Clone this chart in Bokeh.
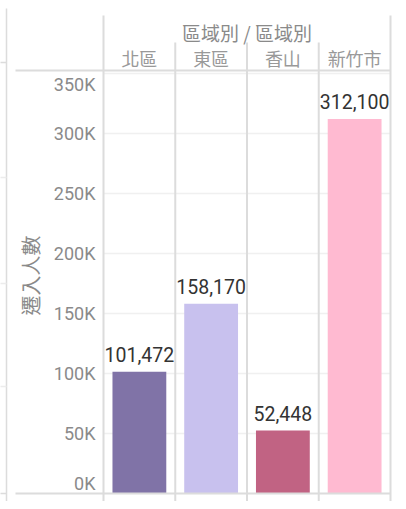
from bokeh.plotting import figure
from bokeh.models import ColumnDataSource, LinearAxis, FixedTicker, Range1d, Label
from bokeh.core.properties import value
from bokeh.embed import file_html
from bokeh.resources import INLINE

# ---- data ----
DISTRICTS = ["北區", "東區", "香山", "新竹市"]
MOVERS_IN = [101472, 158170, 52448, 312100]
BAR_COLORS = ["#8073A7", "#C8C1EE", "#C16383", "#FFBAD1"]
Y_TICKS = [0, 50000, 100000, 150000, 200000, 250000, 300000, 350000]
Y_TICK_LABELS = ["0K", "50K", "100K", "150K", "200K", "250K", "300K", "350K"]
X_TITLE = "區域別 / 區域別"
Y_TITLE = "遷入人數"

# ---- layout (pixels in the figure canvas) ----
W, H = 398, 501
COL_PX = 71.75          # width of one column
PANE_LEFT = 103         # left edge of first column
ZERO_PX = 493           # screen y of value 0
PX_PER_UNIT = 60 / 50000
LABEL_GAP_PX = 17
TICK_FONT = "Roboto"
TICK_SIZE = "18px"
TICK_COLOR = "#8a8a8a"
TICK_STANDOFF = 8


def sx_to_x(px):
    return (px - (PANE_LEFT + COL_PX / 2)) / COL_PX


def sy_to_y(py):
    return (ZERO_PX - py) / PX_PER_UNIT


p = figure(width=W, height=H, output_backend="svg", toolbar_location=None,
           x_range=Range1d(sx_to_x(0), sx_to_x(W)),
           y_range=Range1d(sy_to_y(H), sy_to_y(0)),
           x_axis_location=None, y_axis_location=None,
           min_border=0, min_border_left=0, min_border_right=0,
           min_border_top=0, min_border_bottom=0)
p.outline_line_color = None
p.background_fill_color = "white"
p.border_fill_color = "white"
p.grid.visible = False

n = len(DISTRICTS)
xs = list(range(n))
edges = [i - 0.5 for i in range(n + 1)]
LINE = "#dcdcdc"

# faint horizontal gridlines
p.segment(x0=[edges[0]] * (len(Y_TICKS) - 1), x1=[edges[-1]] * (len(Y_TICKS) - 1),
          y0=Y_TICKS[1:], y1=Y_TICKS[1:], line_color="#f0f0f0", line_width=1.5)

# left dashboard border and stubs
p.segment(x0=[sx_to_x(6)], x1=[sx_to_x(6)], y0=[sy_to_y(8)], y1=[sy_to_y(H + 5)],
          line_color=LINE, line_width=1.5)
p.segment(x0=[sx_to_x(-2)] * 2, x1=[sx_to_x(6)] * 2, y0=[sy_to_y(62), sy_to_y(493)],
          y1=[sy_to_y(62), sy_to_y(493)], line_color=LINE, line_width=1.5)
p.segment(x0=[sx_to_x(-2)] * 3, x1=[sx_to_x(6)] * 3,
          y0=[sy_to_y(177), sy_to_y(283), sy_to_y(386)],
          y1=[sy_to_y(177), sy_to_y(283), sy_to_y(386)], line_color="#ececec", line_width=1.5)

# bars
gap = LABEL_GAP_PX / PX_PER_UNIT
src = ColumnDataSource(dict(x=xs, v=MOVERS_IN, color=BAR_COLORS,
                            ly=[v + gap for v in MOVERS_IN],
                            label=[f"{v:,}" for v in MOVERS_IN]))
p.vbar(x="x", top="v", bottom=0, width=0.75, fill_color="color",
       line_color=None, source=src)
p.text(x="x", y="ly", text="label", source=src, text_align="center",
       text_baseline="alphabetic", text_font=value("Roboto"),
       text_font_size="19.5px", text_color="#333333")

# column separators
outer = [edges[0], edges[-1]]
inner = edges[1:-1]
p.segment(x0=outer, x1=outer, y0=[sy_to_y(15)] * 2, y1=[sy_to_y(H + 5)] * 2,
          line_color=LINE, line_width=2)
p.segment(x0=inner, x1=inner, y0=[sy_to_y(42)] * len(inner),
          y1=[sy_to_y(H + 5)] * len(inner), line_color=LINE, line_width=2)
# header border and zero line
p.segment(x0=[sx_to_x(15)] * 2, x1=[edges[-1]] * 2, y0=[sy_to_y(70), 0],
          y1=[sy_to_y(70), 0], line_color=LINE, line_width=2)


def style_axis(ax):
    ax.axis_line_color = None
    ax.major_tick_line_color = None
    ax.minor_tick_line_color = None
    ax.major_tick_out = 0
    ax.major_tick_in = 0
    ax.minor_tick_out = 0
    ax.minor_tick_in = 0


inner_ticks = Y_TICKS[1:-1]
yax = LinearAxis(fixed_location=edges[0], ticker=FixedTicker(ticks=inner_ticks, minor_ticks=[]),
                 major_label_overrides={t: Y_TICK_LABELS[Y_TICKS.index(t)] for t in inner_ticks})
style_axis(yax)
yax.major_label_standoff = TICK_STANDOFF
yax.major_label_text_font = TICK_FONT
yax.major_label_text_font_size = TICK_SIZE
yax.major_label_text_color = TICK_COLOR
yax.axis_label = Y_TITLE
yax.axis_label_text_font = "Noto Sans CJK TC"
yax.axis_label_text_font_size = "20px"
yax.axis_label_text_font_style = "normal"
yax.axis_label_text_color = "#8a8a8a"
yax.axis_label_standoff = 6
yax.bounds = (sy_to_y(275 + 200), sy_to_y(275 - 200))
p.add_layout(yax, "left")

# end tick labels kept inside the pane (as Tableau does)
for t, base in ((Y_TICKS[0], "bottom"), (Y_TICKS[-1], "top")):
    p.add_layout(Label(x=sx_to_x(PANE_LEFT - TICK_STANDOFF), y=t,
                       text=Y_TICK_LABELS[Y_TICKS.index(t)], text_align="right",
                       text_baseline=base, text_font=TICK_FONT,
                       text_font_size=TICK_SIZE, text_color=TICK_COLOR))

xax = LinearAxis(fixed_location=sy_to_y(70), ticker=FixedTicker(ticks=xs, minor_ticks=[]),
                 major_label_overrides={i: d for i, d in enumerate(DISTRICTS)},
                 bounds=(edges[0], edges[-1]))
style_axis(xax)
xax.major_label_standoff = 0
xax.major_label_text_font = "Noto Sans CJK TC"
xax.major_label_text_font_size = "18px"
xax.major_label_text_color = "#999999"
xax.axis_label = X_TITLE
xax.axis_label_text_font = "Noto Sans CJK TC"
xax.axis_label_text_font_size = "19px"
xax.axis_label_text_font_style = "normal"
xax.axis_label_text_color = "#8a8a8a"
xax.axis_label_standoff = -4
p.add_layout(xax, "above")

open("out.html", "w").write(file_html(p, INLINE))
